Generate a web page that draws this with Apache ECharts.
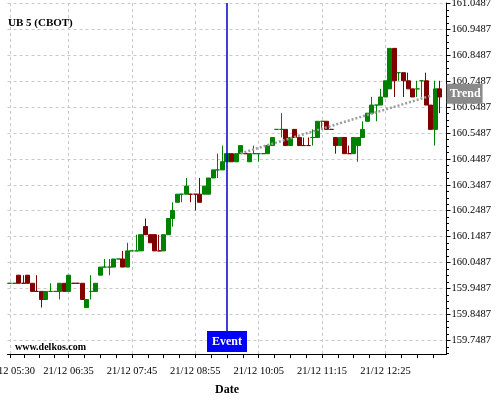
<!DOCTYPE html>
<html>
<head>
<meta charset="utf-8">
<title>UB 5 (CBOT)</title>
<script src="https://cdn.jsdelivr.net/npm/echarts@6.0.0/dist/echarts.min.js"></script>
<style>
  html, body { margin: 0; padding: 0; background: #fff; }
  #chart { width: 500px; height: 400px; }
</style>
</head>
<body>
<div id="chart"></div>
<script>
// 5 minute bars from 21/12 05:30 to 13:30
const startMinutes = 5 * 60 + 30
const barCount = 97
const categories = []
for (let i = 0; i < barCount; i++) {
  const m = startMinutes + 5 * i
  categories.push('21/12 ' + String(Math.floor(m / 60)).padStart(2, '0') + ':' + String(m % 60).padStart(2, '0'))
}

// [open, close, low, high]
const candles = [
  [159.96875, 159.96875, 159.96875, 159.96875],
  [159.96875, 159.96875, 159.96875, 159.96875],
  [160, 159.96875, 159.96875, 160],
  [159.96875, 159.96875, 159.96875, 160],
  [160, 159.96875, 159.96875, 160],
  [159.96875, 159.9375, 159.9375, 159.96875],
  [159.9375, 159.9375, 159.9375, 160],
  [159.9375, 159.90625, 159.875, 159.9375],
  [159.90625, 159.9375, 159.90625, 159.9375],
  [159.9375, 159.9375, 159.9375, 159.96875],
  [159.9375, 159.9375, 159.9375, 159.9375],
  [159.9375, 159.96875, 159.90625, 159.96875],
  [159.96875, 159.9375, 159.9375, 159.96875],
  [159.9375, 160, 159.9375, 160],
  [159.96875, 159.96875, 159.96875, 159.96875],
  [159.96875, 159.96875, 159.96875, 159.96875],
  [159.96875, 159.90625, 159.90625, 159.96875],
  [159.875, 159.90625, 159.875, 159.90625],
  [159.9375, 159.9375, 159.90625, 160],
  [159.9375, 159.96875, 159.9375, 159.96875],
  [160, 160.03125, 160, 160.03125],
  [160.03125, 160.03125, 160.03125, 160.0625],
  [160.03125, 160.03125, 160, 160.0625],
  [160.03125, 160.0625, 160.03125, 160.0625],
  [160.0625, 160.0625, 160.0625, 160.0625],
  [160.0625, 160.03125, 160.03125, 160.09375],
  [160.03125, 160.09375, 160.03125, 160.125],
  [160.09375, 160.09375, 160.09375, 160.09375],
  [160.09375, 160.09375, 160.09375, 160.15625],
  [160.09375, 160.15625, 160.09375, 160.15625],
  [160.1875, 160.15625, 160.15625, 160.21875],
  [160.15625, 160.125, 160.125, 160.15625],
  [160.15625, 160.09375, 160.09375, 160.15625],
  [160.09375, 160.09375, 160.09375, 160.15625],
  [160.09375, 160.15625, 160.09375, 160.15625],
  [160.15625, 160.21875, 160.15625, 160.21875],
  [160.21875, 160.25, 160.1875, 160.28125],
  [160.28125, 160.3125, 160.28125, 160.3125],
  [160.3125, 160.3125, 160.28125, 160.3125],
  [160.3125, 160.34375, 160.3125, 160.375],
  [160.3125, 160.3125, 160.28125, 160.3125],
  [160.3125, 160.3125, 160.25, 160.3125],
  [160.3125, 160.28125, 160.28125, 160.375],
  [160.3125, 160.34375, 160.3125, 160.34375],
  [160.3125, 160.375, 160.3125, 160.375],
  [160.375, 160.40625, 160.375, 160.40625],
  [160.40625, 160.40625, 160.375, 160.46875],
  [160.40625, 160.4375, 160.40625, 160.5],
  [160.4375, 160.46875, 160.4375, 160.46875],
  [160.46875, 160.4375, 160.4375, 160.46875],
  [160.4375, 160.46875, 160.4375, 160.46875],
  [160.46875, 160.5, 160.46875, 160.5],
  [160.46875, 160.46875, 160.46875, 160.46875],
  [160.4375, 160.46875, 160.4375, 160.46875],
  [160.46875, 160.46875, 160.46875, 160.5],
  [160.46875, 160.46875, 160.4375, 160.46875],
  [160.46875, 160.46875, 160.46875, 160.46875],
  [160.46875, 160.5, 160.46875, 160.5],
  [160.5, 160.53125, 160.5, 160.53125],
  [160.5625, 160.5625, 160.5625, 160.5625],
  [160.5625, 160.5625, 160.53125, 160.625],
  [160.5625, 160.5, 160.5, 160.5625],
  [160.5, 160.53125, 160.5, 160.53125],
  [160.5625, 160.53125, 160.53125, 160.5625],
  [160.53125, 160.5, 160.5, 160.53125],
  [160.5, 160.5, 160.5, 160.53125],
  [160.5, 160.5, 160.5, 160.53125],
  [160.53125, 160.53125, 160.5, 160.5625],
  [160.53125, 160.59375, 160.53125, 160.59375],
  [160.59375, 160.59375, 160.5625, 160.59375],
  [160.59375, 160.5625, 160.5625, 160.59375],
  [160.5625, 160.5625, 160.5625, 160.5625],
  [160.53125, 160.5, 160.46875, 160.53125],
  [160.5, 160.53125, 160.5, 160.53125],
  [160.53125, 160.46875, 160.46875, 160.53125],
  [160.46875, 160.46875, 160.46875, 160.5],
  [160.46875, 160.53125, 160.46875, 160.53125],
  [160.5, 160.53125, 160.4375, 160.53125],
  [160.53125, 160.5625, 160.53125, 160.59375],
  [160.59375, 160.625, 160.59375, 160.625],
  [160.625, 160.65625, 160.625, 160.6875],
  [160.65625, 160.65625, 160.59375, 160.65625],
  [160.65625, 160.6875, 160.65625, 160.71875],
  [160.6875, 160.75, 160.6875, 160.75],
  [160.71875, 160.875, 160.71875, 160.875],
  [160.875, 160.75, 160.6875, 160.875],
  [160.78125, 160.78125, 160.75, 160.78125],
  [160.78125, 160.75, 160.6875, 160.78125],
  [160.75, 160.71875, 160.71875, 160.78125],
  [160.71875, 160.6875, 160.6875, 160.71875],
  [160.71875, 160.71875, 160.6875, 160.75],
  [160.75, 160.75, 160.6875, 160.75],
  [160.75, 160.65625, 160.65625, 160.78125],
  [160.65625, 160.5625, 160.5625, 160.65625],
  [160.5625, 160.71875, 160.5, 160.75],
  [160.71875, 160.6875, 160.625, 160.75]
]
// flat bars that the source draws as down bars
const dojiDown = [3, 6, 14, 15, 33, 40, 41, 52, 65, 66, 71, 75]

const trendStart = ['21/12 09:45', 160.470]
const trendEnd = ['21/12 13:15', 160.692]
const eventTime = '21/12 09:30'

const xTickLabels = ['21/12 05:30', '21/12 06:35', '21/12 07:45', '21/12 08:55', '21/12 10:05', '21/12 11:15', '21/12 12:25']
const yTickLabels = [159.7487, 159.8487, 159.9487, 160.0487, 160.1487, 160.2487, 160.3487,
  160.4487, 160.5487, 160.6487, 160.7487, 160.8487, 160.9487, 161.0487]

const yMin = 159.696
const yMax = 161.05
const UP = '#008000'
const DOWN = '#800000'
const FONT = 'Liberation Serif'

// major / minor tick positions
const xMajor = xTickLabels.map(t => categories.indexOf(t))
const xMinor = []
for (let k = 0; k < xMajor.length; k++) {
  const a = xMajor[k]
  const step = k < xMajor.length - 1 ? (xMajor[k + 1] - a) / 4 : 3.5
  for (let s = 0; s < 4; s++) {
    if (a + s * step <= barCount - 0.5) xMinor.push(a + s * step)
  }
}
const yMinor = []
for (let v = yTickLabels[0] - 0.05; v < yMax; v += 0.025) {
  if (v >= yMin) yMinor.push(+v.toFixed(4))
}

const candleData = candles.map((c, i) => {
  if (dojiDown.indexOf(i) >= 0) {
    return { value: c, itemStyle: { color: DOWN, borderColor: DOWN } }
  }
  return c
})

const chart = echarts.init(document.getElementById('chart'))
chart.setOption({
  animation: false,
  backgroundColor: '#fff',
  title: [
    {
      text: 'UB 5 (CBOT)', left: 8, top: 18, padding: 0,
      textStyle: { fontFamily: FONT, fontSize: 11, fontWeight: 'bold', color: '#000' }
    },
    {
      text: 'www.delkos.com', left: 15, top: 342, padding: 0,
      textStyle: { fontFamily: FONT, fontSize: 10, fontWeight: 'bold', color: '#000' }
    }
  ],
  grid: { left: 7.5, right: 53.5, top: 3, bottom: 46, outerBoundsMode: 'none' },
  xAxis: [
    {
      type: 'category', data: categories, boundaryGap: true, show: false
    },
    {
      type: 'value', position: 'bottom', min: -0.5, max: barCount - 0.5,
      name: 'Date', nameLocation: 'middle', nameGap: 30,
      nameTextStyle: { fontFamily: FONT, fontSize: 12, fontWeight: 'bold', color: '#000' },
      axisLine: { show: true, onZero: false, lineStyle: { color: '#000', width: 1 } },
      axisTick: { show: true, customValues: xMajor, length: 4, lineStyle: { color: '#000' } },
      axisLabel: {
        customValues: xMajor, margin: 12, color: '#000', fontFamily: FONT, fontSize: 10.5,
        formatter: v => categories[Math.round(v)]
      },
      splitLine: { show: true, lineStyle: { color: '#c8c8c8', type: [3, 3] } }
    },
    {
      type: 'value', position: 'bottom', min: -0.5, max: barCount - 0.5,
      axisLine: { show: false, onZero: false },
      axisTick: { show: true, customValues: xMinor, length: 4, lineStyle: { color: '#000' } },
      axisLabel: { show: false },
      splitLine: { show: false }
    }
  ],
  yAxis: [
    {
      type: 'value', position: 'right', min: yMin, max: yMax,
      axisLine: { show: true, onZero: false, lineStyle: { color: '#000', width: 1 } },
      axisTick: { show: true, customValues: yTickLabels, length: 4, lineStyle: { color: '#000' } },
      axisLabel: {
        customValues: yTickLabels, margin: 5, color: '#000', fontFamily: FONT, fontSize: 10.5,
        formatter: v => v.toFixed(4)
      },
      splitLine: { show: true, lineStyle: { color: '#c8c8c8', type: [3, 3] } }
    },
    {
      type: 'value', position: 'right', min: yMin, max: yMax,
      axisLine: { show: false, onZero: false },
      axisTick: { show: true, customValues: yMinor, length: 2.5, lineStyle: { color: '#000' } },
      axisLabel: { show: false },
      splitLine: { show: false }
    }
  ],
  series: [
    {
      type: 'candlestick',
      xAxisIndex: 0,
      yAxisIndex: 0,
      barWidth: '100%',
      data: candleData,
      itemStyle: { color: UP, color0: DOWN, borderColor: UP, borderColor0: DOWN, borderWidth: 1 },
      markLine: {
        silent: true,
        symbol: ['none', 'none'],
        lineStyle: { color: '#0000cc', width: 1.5, type: 'solid' },
        label: {
          show: true, position: 'end', distance: 0, formatter: 'Event',
          color: '#fff', backgroundColor: '#0000ff', fontFamily: FONT, fontWeight: 'bold',
          fontSize: 12, padding: [5, 5, 4, 5]
        },
        data: [[{ coord: [eventTime, yMax] }, { coord: [eventTime, 159.785] }]]
      }
    },
    {
      type: 'line',
      xAxisIndex: 0,
      yAxisIndex: 0,
      symbol: 'none',
      clip: false,
      lineStyle: { color: '#9c9c9c', width: 2.5, type: [2, 2] },
      endLabel: {
        show: true, distance: 16, offset: [0, -2], formatter: 'Trend',
        color: '#fff', backgroundColor: '#8a8a8a', fontFamily: FONT, fontWeight: 'bold',
        fontSize: 12, padding: [4, 2, 4, 3]
      },
      data: [trendStart, trendEnd]
    }
  ]
})
</script>
</body>
</html>
